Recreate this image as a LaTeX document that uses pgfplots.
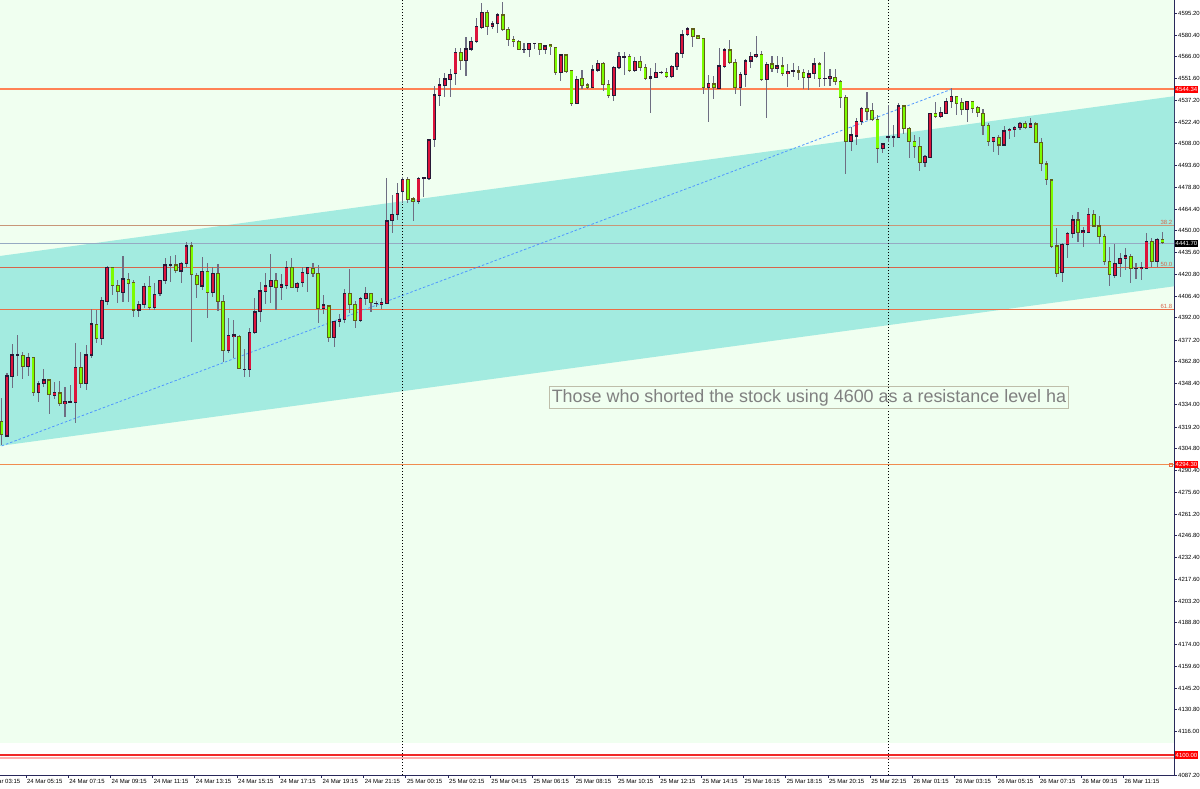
\documentclass[border=0pt]{standalone}
\usepackage{fontspec}
\setmainfont{Liberation Sans}
\usepackage{pgfplots}
\usepackage{pgfplotstable}
\pgfplotsset{compat=1.18}

\definecolor{bgpale}{RGB}{240,255,240}
\definecolor{chan}{RGB}{163,235,224}
\definecolor{upfill}{RGB}{220,20,60}
\definecolor{dnfill}{RGB}{124,252,0}
\definecolor{upedge}{RGB}{40,25,55}
\definecolor{dnedge}{RGB}{95,95,25}
\definecolor{wick}{RGB}{110,110,130}
\definecolor{axiscol}{RGB}{40,40,90}
\definecolor{coral}{RGB}{255,130,85}
\definecolor{supcol}{RGB}{240,140,80}
\definecolor{lowred}{RGB}{240,40,40}
\definecolor{lowpink}{RGB}{255,175,175}
\definecolor{fibA}{RGB}{200,150,120}
\definecolor{fibB}{RGB}{215,100,75}
\definecolor{fibC}{RGB}{235,110,70}
\definecolor{bidcol}{RGB}{150,170,195}
\definecolor{trend}{RGB}{80,150,255}
\definecolor{boxcol}{RGB}{190,190,170}
\definecolor{boxtext}{RGB}{128,128,128}

% M15 candles, bar index i
\pgfplotstableread{
i o h l c
0 4322.8 4338.3 4307.2 4313.9
1 4313.2 4355.0 4312.8 4353.2
2 4352.8 4374.3 4345.5 4367.2
3 4367.2 4380.3 4353.2 4367.2
4 4366.8 4369.2 4351.2 4359.5
5 4359.5 4368.4 4353.2 4365.7
6 4365.5 4366.1 4339.9 4342.1
7 4342.1 4350.1 4335.9 4347.9
8 4347.9 4357.7 4346.1 4350.6
9 4350.6 4351.0 4327.7 4340.6
10 4340.4 4349.2 4337.7 4342.1
11 4341.9 4349.9 4333.5 4334.6
12 4334.6 4346.1 4326.1 4336.1
13 4336.1 4347.2 4335.0 4336.1
14 4335.7 4375.0 4321.7 4359.0
15 4359.0 4369.5 4345.0 4347.9
16 4347.9 4373.9 4343.9 4367.2
17 4367.2 4397.7 4365.0 4387.9
18 4387.7 4397.2 4375.0 4378.3
19 4378.3 4406.1 4373.9 4403.5
20 4402.8 4426.6 4400.6 4425.7
21 4425.7 4426.2 4407.2 4413.7
22 4413.7 4417.2 4401.7 4409.5
23 4409.0 4433.2 4402.8 4417.9
24 4417.7 4422.1 4402.8 4415.0
25 4415.5 4417.2 4392.3 4397.2
26 4397.2 4403.5 4392.3 4401.0
27 4401.0 4415.5 4398.3 4412.8
28 4412.8 4419.9 4397.2 4399.0
29 4399.0 4415.5 4397.2 4407.7
30 4407.9 4416.8 4406.6 4416.8
31 4416.8 4431.7 4414.6 4427.2
32 4427.2 4433.2 4416.1 4427.2
33 4427.2 4433.7 4422.1 4423.5
34 4423.2 4429.5 4415.0 4428.4
35 4428.4 4442.8 4426.1 4439.9
36 4439.9 4442.8 4376.1 4420.6
37 4420.1 4421.7 4405.0 4413.9
38 4413.2 4432.3 4410.6 4422.8
39 4422.8 4428.8 4391.7 4408.8
40 4408.8 4425.7 4405.7 4421.7
41 4421.7 4427.9 4396.8 4402.8
42 4402.8 4407.2 4362.8 4370.1
43 4370.1 4391.7 4368.8 4380.1
44 4379.5 4390.6 4365.0 4380.6
45 4379.5 4380.6 4357.7 4358.3
46 4357.7 4371.0 4352.8 4357.7
47 4357.7 4385.0 4352.3 4382.3
48 4382.1 4405.5 4381.2 4395.9
49 4395.9 4416.1 4389.5 4409.9
50 4409.4 4421.7 4401.2 4413.2
51 4412.8 4434.6 4402.1 4416.8
52 4416.8 4421.7 4397.2 4412.1
53 4412.3 4421.2 4403.9 4413.9
54 4413.7 4430.1 4411.0 4425.7
55 4425.7 4432.1 4411.7 4412.3
56 4412.3 4416.1 4409.4 4415.0
57 4415.5 4426.1 4412.8 4422.1
58 4421.7 4426.1 4409.4 4425.7
59 4425.0 4428.3 4419.0 4421.7
60 4421.7 4427.0 4388.8 4398.3
61 4397.9 4407.2 4394.6 4400.6
62 4399.9 4400.6 4376.1 4379.0
63 4379.0 4390.1 4372.8 4389.5
64 4389.5 4394.6 4386.1 4391.0
65 4390.6 4411.0 4388.3 4408.3
66 4408.3 4424.3 4395.5 4401.0
67 4401.0 4403.5 4385.0 4390.1
68 4390.1 4406.1 4389.5 4405.0
69 4405.0 4412.3 4400.6 4408.3
70 4408.3 4408.8 4396.1 4402.1
71 4401.7 4403.2 4399.0 4401.7
72 4401.0 4405.0 4397.7 4402.1
73 4401.7 4485.0 4401.2 4456.6
74 4456.6 4473.9 4448.3 4461.0
75 4460.6 4482.1 4457.2 4475.0
76 4476.1 4486.1 4468.3 4484.3
77 4484.3 4485.7 4468.8 4471.0
78 4471.2 4472.8 4456.8 4469.5
79 4469.5 4485.7 4467.9 4485.0
80 4485.5 4485.9 4472.8 4485.5
81 4484.6 4511.0 4483.9 4510.6
82 4510.6 4546.6 4505.7 4540.6
83 4539.9 4551.7 4533.2 4547.2
84 4546.8 4555.5 4539.5 4551.2
85 4550.6 4557.7 4539.5 4554.3
86 4554.6 4571.7 4547.2 4568.8
87 4568.8 4571.7 4557.2 4563.5
88 4563.5 4579.0 4553.2 4571.2
89 4571.2 4579.0 4570.1 4576.1
90 4575.9 4591.7 4575.0 4586.1
91 4585.7 4601.7 4584.3 4595.5
92 4595.7 4597.2 4580.6 4586.1
93 4586.1 4590.1 4584.3 4587.9
94 4587.9 4595.5 4581.7 4593.9
95 4593.9 4602.8 4583.5 4584.3
96 4584.3 4586.1 4573.2 4577.7
97 4577.7 4579.9 4572.8 4576.3
98 4576.1 4577.2 4570.6 4571.0
99 4571.0 4575.0 4568.3 4571.0
100 4571.0 4575.5 4566.1 4575.0
101 4575.0 4575.5 4571.0 4575.0
102 4575.0 4575.5 4567.2 4570.6
103 4570.6 4573.9 4567.9 4573.2
104 4573.9 4574.3 4567.2 4572.8
105 4572.3 4572.8 4553.9 4555.5
106 4555.5 4567.9 4550.1 4567.2
107 4567.2 4567.9 4555.0 4556.1
108 4556.8 4557.2 4533.2 4534.6
109 4535.0 4553.2 4534.6 4551.0
110 4551.7 4557.2 4544.6 4546.8
111 4547.2 4548.3 4544.6 4545.5
112 4545.5 4560.6 4545.0 4557.2
113 4557.2 4563.9 4556.1 4561.7
114 4561.7 4562.8 4543.2 4547.7
115 4547.7 4550.6 4538.3 4540.1
116 4540.1 4560.1 4536.6 4559.0
117 4558.8 4569.0 4557.9 4566.1
118 4566.1 4569.0 4553.9 4566.1
119 4566.1 4567.7 4555.7 4556.6
120 4556.6 4566.1 4555.7 4562.8
121 4562.8 4566.8 4556.6 4558.8
122 4558.8 4561.0 4550.6 4551.7
123 4551.7 4558.3 4528.3 4552.6
124 4552.1 4561.7 4551.7 4555.7
125 4555.7 4556.6 4554.3 4555.7
126 4555.7 4558.8 4552.1 4552.8
127 4552.8 4560.6 4552.1 4559.5
128 4559.5 4569.5 4557.2 4568.3
129 4568.3 4583.9 4565.5 4580.6
130 4580.6 4586.1 4580.1 4584.6
131 4584.6 4585.0 4572.8 4579.5
132 4579.9 4580.6 4577.9 4578.3
133 4578.3 4578.8 4541.0 4545.5
134 4545.5 4553.9 4522.3 4548.3
135 4547.9 4553.5 4537.9 4545.5
136 4545.0 4571.7 4544.6 4559.9
137 4559.5 4571.7 4558.3 4570.6
138 4570.6 4577.2 4561.0 4562.3
139 4562.3 4564.6 4541.0 4545.5
140 4545.5 4556.1 4533.5 4554.3
141 4554.3 4564.6 4546.1 4563.2
142 4563.2 4569.0 4558.3 4566.1
143 4566.1 4580.1 4565.5 4567.7
144 4567.7 4569.9 4549.9 4550.6
145 4550.6 4562.8 4525.5 4561.0
146 4561.2 4566.6 4556.1 4558.3
147 4558.3 4566.6 4555.0 4559.9
148 4559.9 4565.7 4553.2 4554.6
149 4554.6 4561.2 4546.1 4556.1
150 4556.6 4561.7 4552.3 4556.6
151 4556.6 4559.9 4550.6 4555.7
152 4555.7 4557.7 4544.3 4552.3
153 4552.3 4557.2 4543.9 4554.6
154 4554.6 4565.0 4551.0 4561.2
155 4561.2 4562.8 4546.1 4551.7
156 4551.7 4569.5 4546.6 4551.7
157 4551.7 4557.7 4546.6 4552.8
158 4552.3 4557.7 4547.2 4549.5
159 4549.5 4550.6 4531.7 4538.8
160 4538.8 4540.6 4487.9 4509.5
161 4509.5 4519.5 4503.5 4513.9
162 4513.2 4525.0 4507.2 4522.8
163 4522.8 4532.8 4520.6 4531.7
164 4531.7 4542.8 4523.9 4529.5
165 4530.1 4535.0 4523.5 4524.3
166 4524.3 4527.2 4495.5 4505.0
167 4505.0 4508.3 4502.1 4507.9
168 4512.8 4533.9 4509.5 4512.8
169 4512.8 4520.6 4506.1 4512.8
170 4512.3 4535.0 4511.7 4533.2
171 4533.2 4533.9 4514.6 4518.3
172 4518.3 4519.0 4498.3 4509.5
173 4509.5 4513.9 4498.3 4506.1
174 4506.1 4512.3 4490.1 4495.5
175 4495.5 4500.6 4492.3 4499.5
176 4499.0 4528.8 4498.3 4528.3
177 4528.3 4536.1 4525.0 4526.1
178 4526.1 4532.8 4525.0 4528.8
179 4528.3 4538.3 4527.9 4536.1
180 4536.1 4545.0 4531.7 4539.5
181 4539.5 4539.9 4527.2 4535.0
182 4535.4 4538.3 4527.2 4531.0
183 4531.0 4536.8 4522.8 4536.1
184 4536.1 4536.8 4528.4 4531.7
185 4532.3 4533.2 4525.7 4529.0
186 4528.4 4531.0 4513.9 4520.1
187 4520.1 4522.1 4506.6 4509.5
188 4509.5 4512.8 4502.8 4512.1
189 4512.1 4513.9 4500.6 4507.2
190 4507.2 4519.9 4506.6 4516.6
191 4516.6 4518.4 4511.0 4517.7
192 4517.7 4519.9 4512.3 4519.0
193 4518.8 4522.8 4517.2 4521.7
194 4521.7 4523.5 4517.7 4518.8
195 4518.8 4525.0 4518.4 4521.2
196 4521.2 4522.8 4508.4 4509.0
197 4509.0 4511.7 4490.1 4494.6
198 4494.6 4496.8 4480.6 4483.9
199 4483.9 4484.3 4438.3 4439.5
200 4439.9 4451.7 4419.0 4421.7
201 4422.1 4442.1 4416.1 4441.0
202 4441.0 4449.5 4431.7 4448.3
203 4447.9 4460.6 4445.0 4457.2
204 4457.2 4462.8 4442.8 4449.0
205 4448.8 4452.8 4439.5 4449.9
206 4449.0 4465.0 4448.4 4461.0
207 4461.0 4463.9 4452.4 4453.2
208 4453.2 4459.9 4441.2 4446.1
209 4446.1 4447.9 4427.2 4429.5
210 4429.5 4439.5 4413.2 4420.6
211 4419.9 4441.2 4418.4 4428.4
212 4428.4 4435.5 4419.5 4431.7
213 4431.7 4438.4 4423.9 4433.2
214 4432.8 4434.6 4415.0 4425.0
215 4425.0 4428.8 4417.7 4425.0
216 4424.6 4429.5 4417.2 4425.7
217 4425.0 4448.8 4424.4 4442.8
218 4442.8 4445.0 4425.7 4429.5
219 4429.5 4445.0 4426.1 4444.4
220 4444.4 4449.5 4441.2 4442.1
}\candles

\begin{document}
\begin{tikzpicture}
\path[use as bounding box, fill=white] (0,-14bp) rectangle (1200bp,775bp);
\begin{axis}[
    at={(0,0)}, anchor=south west,
    scale only axis, width=1174bp, height=775bp,
    xmin=-0.32, xmax=222.2, ymin=4087.2, ymax=4603.87,
    clip=false,
    axis x line*=bottom, axis y line*=right,
    axis line style={-, color=axiscol, line width=1bp},
    tick align=outside, major tick length=3bp,
    tick style={color=axiscol, line width=0.7bp},
    xtick={4.6,12.6,20.6,28.6,36.6,44.6,52.6,60.6,68.6,76.6,84.6,92.6,100.6,108.6,116.6,124.6,132.6,140.6,148.6,156.6,164.6,172.6,180.6,188.6,196.6,204.6,212.6},
    xticklabels={24 Mar 05:15, 24 Mar 07:15, 24 Mar 09:15, 24 Mar 11:15, 24 Mar 13:15, 24 Mar 15:15, 24 Mar 17:15, 24 Mar 19:15, 24 Mar 21:15, 25 Mar 00:15, 25 Mar 02:15, 25 Mar 04:15, 25 Mar 06:15, 25 Mar 08:15, 25 Mar 10:15, 25 Mar 12:15, 25 Mar 14:15, 25 Mar 16:15, 25 Mar 18:15, 25 Mar 20:15, 25 Mar 22:15, 26 Mar 01:15, 26 Mar 03:15, 26 Mar 05:15, 26 Mar 07:15, 26 Mar 09:15, 26 Mar 11:15},
    xticklabel style={anchor=north west, inner sep=0pt, font=\fontsize{6}{7}\selectfont, xshift=1bp, yshift=-1bp},
    ytick={4087.2,4116.0,4130.8,4145.2,4159.6,4174.0,4188.8,4203.2,4217.6,4232.4,4246.8,4261.2,4275.6,4290.4,4304.8,4319.2,4334.0,4348.4,4362.8,4377.2,4392.0,4406.4,4420.8,4435.6,4450.0,4464.4,4478.8,4493.6,4508.0,4522.4,4537.2,4551.6,4566.0,4580.4,4595.2},
    yticklabel style={anchor=west, inner sep=0pt, font=\fontsize{6}{7}\selectfont, xshift=1bp,
        /pgf/number format/.cd, fixed, fixed zerofill, precision=2, 1000 sep={}, assume math mode=true},
]
% background rectangle and channel
\addplot[fill=bgpale, draw=none] coordinates {(-0.32,4108.6) (222.2,4108.6) (222.2,4603.87) (-0.32,4603.87)} -- cycle;
\addplot[fill=chan, draw=none] coordinates {(-0.32,4433.2) (222.2,4539.7) (222.2,4413.0) (-0.32,4306.6)} -- cycle;

% horizontal levels
\addplot[coral, line width=2bp] coordinates {(-0.32,4544.34) (222.2,4544.34)};
\addplot[supcol, line width=1.5bp] coordinates {(-0.32,4294.3) (222.2,4294.3)};
\addplot[lowpink, line width=1.6bp] coordinates {(-0.32,4098.7) (222.2,4098.7)};
\addplot[lowred, line width=1.2bp] coordinates {(-0.32,4100.5) (222.2,4100.5)};
\addplot[fibA, line width=1.3bp] coordinates {(-0.32,4453.7) (222.2,4453.7)};
\addplot[fibB, line width=1.2bp] coordinates {(-0.32,4425.7) (222.2,4425.7)};
\addplot[fibC, line width=1bp] coordinates {(-0.32,4397.7) (222.2,4397.7)};
\addplot[bidcol, line width=1.3bp] coordinates {(-0.32,4441.7) (222.2,4441.7)};
\addplot[only marks, mark=square, mark size=1.5bp, color=fibC] coordinates {(221.6,4294.3)};

% trend line and day separators
\addplot[trend, line width=0.8bp, dash pattern=on 2.5bp off 2bp] coordinates {(0,4306.6) (180,4544.34)};
\addplot[black, line width=0.8bp, dash pattern=on 1.5bp off 1.5bp] coordinates {(75.87,4087.2) (75.87,4603.87)};
\addplot[black, line width=0.8bp, dash pattern=on 1.5bp off 1.5bp] coordinates {(168.0,4087.2) (168.0,4603.87)};

% candles: wicks, then bodies (outline, then fill)
\addplot[draw=none, mark=none, error bars/.cd, y dir=both, y explicit, error mark=none,
    error bar style={draw=wick, line width=1.1bp}]
  table[x=i, y expr={(\thisrow{h}+\thisrow{l})/2}, y error expr={(\thisrow{h}-\thisrow{l})/2}] {\candles};
\addplot[draw=none, mark=none, error bars/.cd, y dir=both, y explicit, error mark=none,
    error bar style={draw=upedge, line width=3.6bp}]
  table[x=i, y expr={\thisrow{c}>=\thisrow{o} ? (\thisrow{o}+\thisrow{c})/2 : nan},
        y error expr={abs(\thisrow{c}-\thisrow{o})/2+0.35}] {\candles};
\addplot[draw=none, mark=none, error bars/.cd, y dir=both, y explicit, error mark=none,
    error bar style={draw=upfill, line width=2.2bp}]
  table[x=i, y expr={\thisrow{c}>=\thisrow{o} ? (\thisrow{o}+\thisrow{c})/2 : nan},
        y error expr={max(abs(\thisrow{c}-\thisrow{o})/2-0.45,0)}] {\candles};
\addplot[draw=none, mark=none, error bars/.cd, y dir=both, y explicit, error mark=none,
    error bar style={draw=dnedge, line width=3.6bp}]
  table[x=i, y expr={\thisrow{c}<\thisrow{o} ? (\thisrow{o}+\thisrow{c})/2 : nan},
        y error expr={abs(\thisrow{c}-\thisrow{o})/2+0.35}] {\candles};
\addplot[draw=none, mark=none, error bars/.cd, y dir=both, y explicit, error mark=none,
    error bar style={draw=dnfill, line width=2.2bp}]
  table[x=i, y expr={\thisrow{c}<\thisrow{o} ? (\thisrow{o}+\thisrow{c})/2 : nan},
        y error expr={max(abs(\thisrow{c}-\thisrow{o})/2-0.45,0)}] {\candles};

% fibonacci level texts
\node[anchor=south east, inner sep=0.5bp, font=\fontsize{6}{7}\selectfont, text=fibB] at (axis cs:222.0,4453.7) {38.2};
\node[anchor=south east, inner sep=0.5bp, font=\fontsize{6}{7}\selectfont, text=fibB] at (axis cs:222.0,4425.7) {50.0};
\node[anchor=south east, inner sep=0.5bp, font=\fontsize{6}{7}\selectfont, text=fibB] at (axis cs:222.0,4397.7) {61.8};

% comment box
\node[anchor=north west, draw=boxcol, line width=0.9bp, text=boxtext,
      font=\fontsize{18}{20}\selectfont, inner xsep=1bp, inner ysep=0pt,
      minimum width=519bp, minimum height=22bp, text height=13.5bp, text depth=4bp]
  at (axis cs:103.74,4346.5) {Those who shorted the stock using 4600 as a resistance level ha};

% left time label, cut by the page edge as in the terminal
\node[anchor=north west, inner sep=0pt, font=\fontsize{6}{7}\selectfont] at ([xshift=1bp, yshift=-4bp]axis cs:-3.4,4087.2) {24 Mar 03:15};

\coordinate (p1) at (axis cs:222.2,4544.34);
\coordinate (p2) at (axis cs:222.2,4294.3);
\coordinate (p3) at (axis cs:222.2,4100.5);
\coordinate (p4) at (axis cs:222.2,4441.7);
\end{axis}
\foreach \p/\t in {p1/4544.34, p2/4294.30, p3/4100.00}
  \node[anchor=west, fill=red, text=white, inner xsep=1bp, inner ysep=1.5bp, font=\fontsize{6}{7}\selectfont] at ([xshift=0.5bp]\p) {\t};
\node[anchor=west, fill=black, text=white, inner xsep=1bp, inner ysep=1.5bp, font=\fontsize{6}{7}\selectfont] at ([xshift=0.5bp]p4) {4441.70};
\end{tikzpicture}
\end{document}
